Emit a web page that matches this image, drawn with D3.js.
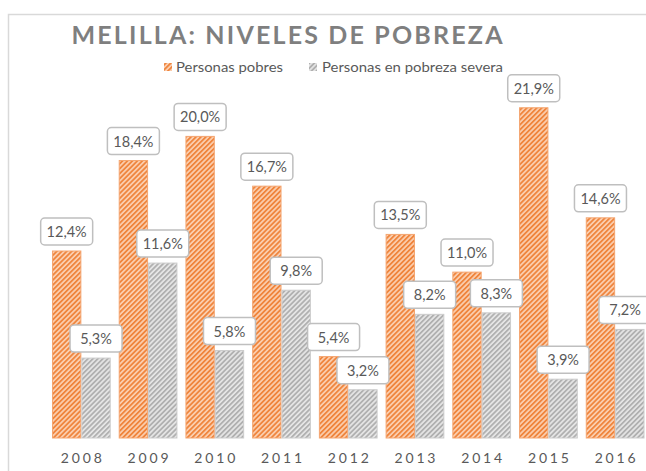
<!DOCTYPE html>
<html>
<head>
<meta charset="utf-8">
<script src="https://cdn.jsdelivr.net/npm/d3@7"></script>
<style>
  body { margin: 0; background: #fff; }
  svg { display: block; font-family: Lato, "Open Sans", sans-serif; }
</style>
</head>
<body>
<div id="chart"></div>
<script>
// Chart data
const years = ["2008", "2009", "2010", "2011", "2012", "2013", "2014", "2015", "2016"];
const pobres = [12.4, 18.4, 20.0, 16.7, 5.4, 13.5, 11.0, 21.9, 14.6];
const severa = [5.3, 11.6, 5.8, 9.8, 3.2, 8.2, 8.3, 3.9, 7.2];
const seriesNames = ["Personas pobres", "Personas en pobreza severa"];

const width = 646, height = 471;
const svg = d3.select("#chart").append("svg")
    .attr("width", width)
    .attr("height", height);

// Hatch patterns
const defs = svg.append("defs");
function hatch(id, bg, fg) {
    const p = defs.append("pattern")
        .attr("id", id)
        .attr("patternUnits", "userSpaceOnUse")
        .attr("width", 3.5).attr("height", 3.5)
        .attr("patternTransform", "rotate(45)");
    p.append("rect").attr("width", 3.5).attr("height", 3.5).attr("fill", bg);
    p.append("rect").attr("width", 1.8).attr("height", 3.5).attr("fill", fg);
}
hatch("hOrange", "#fbcfb0", "#ef853d");
hatch("hGray", "#e6e6e6", "#b0b0b0");
const fills = ["url(#hOrange)", "url(#hGray)"];
const strokes = ["#f4a570", "#cccccc"];

// Chart frame (cropped on the right and bottom)
svg.append("path")
    .attr("d", "M8.5,471 L8.5,14.5 L646,14.5")
    .attr("fill", "none")
    .attr("stroke", "#d9d9d9")
    .attr("stroke-width", 1.5);

// Title
svg.append("text")
    .attr("x", 287).attr("y", 44)
    .attr("text-anchor", "middle")
    .attr("textLength", 431)
    .attr("lengthAdjust", "spacing")
    .style("font-size", "25px")
    .style("font-weight", "bold")
    .style("fill", "#7f7f7f")
    .text("MELILLA: NIVELES DE POBREZA");

// Legend
const legend = [
    { x: 164, tx: 176, tw: 107 },
    { x: 309, tx: 322, tw: 181 }
];
legend.forEach((l, i) => {
    svg.append("rect")
        .attr("x", l.x).attr("y", 63)
        .attr("width", 8).attr("height", 8)
        .attr("fill", fills[i]);
    svg.append("text")
        .attr("x", l.tx).attr("y", 72)
        .attr("textLength", l.tw)
        .attr("lengthAdjust", "spacingAndGlyphs")
        .style("font-size", "14px")
        .style("fill", "#595959")
        .text(seriesNames[i]);
});

// Scales
const x0 = d3.scaleBand()
    .domain(years)
    .range([52, 644.5])
    .paddingInner(0.12)
    .paddingOuter(0);
const x1 = d3.scaleBand()
    .domain([0, 1])
    .range([0, x0.bandwidth()]);
const y = d3.scaleLinear()
    .domain([0, 25])
    .range([438, 61]);

const rows = years.map((yr, i) => ({ year: yr, values: [pobres[i], severa[i]] }));
const items = [];
rows.forEach(r => r.values.forEach((v, k) => items.push({ year: r.year, v, k })));

const barX = d => x0(d.year) + x1(d.k);
// label centre, kept inside the chart area on the right
const labelX = d => Math.min(barX(d) + x1.bandwidth() / 2, 625);

const g = svg.append("g");

g.selectAll("rect.bar")
    .data(items)
    .enter().append("rect")
    .attr("class", "bar")
    .attr("x", d => barX(d) + 0.5)
    .attr("y", d => y(d.v))
    .attr("width", x1.bandwidth() - 1)
    .attr("height", d => y(0) - y(d.v))
    .attr("fill", d => fills[d.k])
    .attr("stroke", d => strokes[d.k])
    .attr("stroke-width", 1);

// Data labels in rounded boxes
const fmt = v => v.toFixed(1).replace(".", ",") + "%";
g.selectAll("rect.lbl")
    .data(items)
    .enter().append("rect")
    .attr("class", "lbl")
    .attr("x", d => labelX(d) - 26)
    .attr("y", d => y(d.v) - 33)
    .attr("width", 52)
    .attr("height", 27)
    .attr("rx", 4)
    .attr("fill", "#fff")
    .attr("stroke", "#bfbfbf")
    .attr("stroke-width", 1.5);

g.selectAll("text.lbl")
    .data(items)
    .enter().append("text")
    .attr("class", "lbl")
    .attr("x", labelX)
    .attr("y", d => y(d.v) - 14)
    .attr("text-anchor", "middle")
    .style("font-size", "14.5px")
    .style("fill", "#595959")
    .text(d => fmt(d.v));

// X axis labels
const xAxis = svg.append("g")
    .attr("transform", "translate(0,438)")
    .call(d3.axisBottom(x0).tickSize(0).tickPadding(15));
xAxis.select(".domain").remove();
xAxis.selectAll("text")
    .attr("textLength", 41)
    .attr("lengthAdjust", "spacing")
    .style("font-family", "Lato, 'Open Sans', sans-serif")
    .style("font-size", "14px")
    .style("fill", "#595959");
</script>
</body>
</html>
